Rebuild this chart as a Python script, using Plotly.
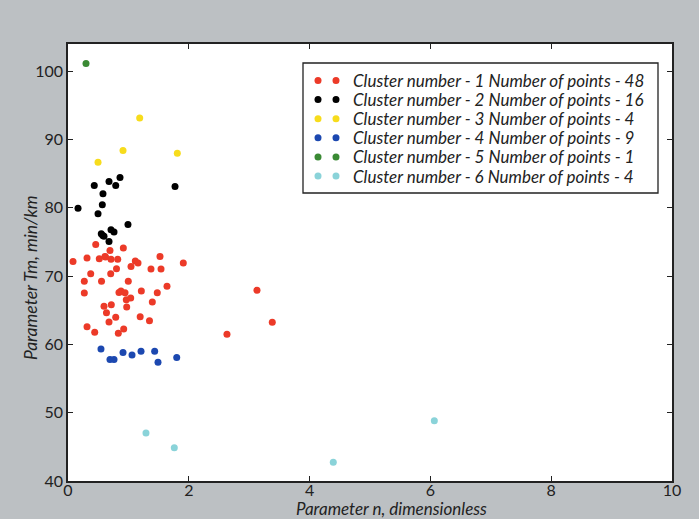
import plotly.graph_objects as go

# ---- data ----
c1_x = [0.459, 0.695, 0.916, 0.083, 0.315, 0.518, 0.613, 0.712, 0.823, 1.114, 1.159, 1.523,
        1.909, 1.043, 0.803, 1.374, 1.540, 0.376, 0.707, 0.270, 0.555, 0.998, 1.639, 0.270,
        0.844, 0.877, 0.944, 1.214, 1.478, 0.965, 1.038, 0.596, 0.717, 0.972, 1.396, 0.637,
        0.790, 1.195, 1.349, 0.679, 0.315, 0.442, 0.833, 0.922, 3.129, 3.382, 2.632, 0.620]
c1_y = [74.65, 73.77, 74.14, 72.16, 72.65, 72.56, 72.89, 72.46, 72.46, 72.21, 71.94, 72.89,
        71.92, 71.43, 71.07, 71.04, 71.04, 70.37, 70.37, 69.24, 69.24, 69.24, 68.51, 67.53,
        67.59, 67.82, 67.56, 67.82, 67.56, 66.56, 66.80, 65.58, 65.83, 65.48, 66.21, 64.63,
        63.98, 64.05, 63.47, 63.29, 62.59, 61.78, 61.64, 62.27, 67.92, 63.25, 61.49, 72.80]

c2_x = [0.435, 0.679, 0.790, 0.861, 0.579, 0.568, 0.166, 0.497, 1.772, 0.993, 0.551, 0.575,
        0.712, 0.762, 0.679, 0.596]
c2_y = [83.27, 83.86, 83.27, 84.44, 82.06, 80.45, 79.96, 79.14, 83.13, 77.57, 76.21, 75.96,
        76.80, 76.45, 75.09, 75.83]

c3_x = [1.187, 0.911, 0.497, 1.810]
c3_y = [93.17, 88.39, 86.68, 88.00]

c4_x = [0.546, 0.695, 0.762, 0.911, 1.060, 1.209, 1.435, 1.490, 1.800]
c4_y = [59.34, 57.79, 57.79, 58.82, 58.46, 59.01, 59.01, 57.40, 58.08]

c5_x = [0.298]
c5_y = [101.16]

c6_x = [1.291, 1.760, 4.392, 6.065]
c6_y = [47.02, 44.87, 42.73, 48.82]

cluster_ids = [1, 2, 3, 4, 5, 6]
colors = ["#ec3a28", "#000000", "#f7dc1c", "#1c48b0", "#3a8a34", "#8ad3d9"]
xs = [c1_x, c2_x, c3_x, c4_x, c5_x, c6_x]
ys = [c1_y, c2_y, c3_y, c4_y, c5_y, c6_y]

x_ticks = [0, 2, 4, 6, 8, 10]
y_ticks = [40, 50, 60, 70, 80, 90, 100]

FONT = "Lato"
TXT = "#222222"

# plot area in pixels (for converting legend layout to paper coords)
W, H = 699, 519
ML, MR, MT, MB = 68, 27, 44, 38
PW, PH = W - ML - MR, H - MT - MB


def px2x(px):
    return (px - ML) / PW


def py2y(py):
    return (H - MB - py) / PH


fig = go.Figure()
for cid, col, x, y in zip(cluster_ids, colors, xs, ys):
    fig.add_trace(go.Scatter(
        x=x, y=y, mode="markers", showlegend=False,
        name=f"Cluster number - {cid} Number of points - {len(x)}",
        marker=dict(color=col, size=7, line=dict(width=0)),
    ))

axis_common = dict(
    showgrid=False, zeroline=False, showline=True, linecolor=TXT, linewidth=1.5,
    mirror="ticks", ticks="inside", ticklen=5, tickwidth=1.2, tickcolor=TXT,
    tickfont=dict(family=FONT, size=16, color=TXT),
)
fig.update_xaxes(range=[0, 10], tickvals=x_ticks, ticklabelstandoff=-6, **axis_common)
fig.update_yaxes(range=[40, 104], tickvals=y_ticks, **axis_common)

# ---- custom legend box (matplotlib style, two dots per entry) ----
shapes = [dict(type="rect", xref="paper", yref="paper",
               x0=px2x(303), x1=px2x(658), y0=py2y(193), y1=py2y(63),
               line=dict(color=TXT, width=1.3), fillcolor="#ffffff", layer="above")]
annotations = []
row0, step = 80.5, 19.1
for i, (cid, col, x) in enumerate(zip(cluster_ids, colors, xs)):
    ry = py2y(row0 + i * step)
    for dx in (318, 336):
        shapes.append(dict(type="circle", xref="paper", yref="paper",
                           xsizemode="pixel", ysizemode="pixel",
                           xanchor=px2x(dx), yanchor=ry,
                           x0=-3.5, x1=3.5, y0=-3.5, y1=3.5,
                           fillcolor=col, line=dict(width=0), layer="above"))
    annotations.append(dict(
        text=f"Cluster number - {cid} Number of points - {len(x)}",
        xref="paper", yref="paper", x=px2x(351), y=ry,
        xanchor="left", yanchor="middle", showarrow=False,
        font=dict(family=FONT, size=17, color=TXT, style="italic")))

annotations += [
    dict(text="Parameter n, dimensionless", xref="paper", yref="paper",
         x=px2x(391), y=py2y(508.5), xanchor="center", yanchor="middle", showarrow=False,
         font=dict(family=FONT, size=17, color=TXT, style="italic")),
    dict(text="Parameter Tm, min/km", xref="paper", yref="paper",
         x=px2x(30), y=py2y(278), xanchor="center", yanchor="middle", showarrow=False,
         textangle=-90,
         font=dict(family=FONT, size=17.5, color=TXT, style="italic")),
]

fig.update_layout(
    width=W, height=H,
    margin=dict(l=ML, r=MR, t=MT, b=MB),
    paper_bgcolor="#bcc0c3",
    plot_bgcolor="#ffffff",
    showlegend=False,
    shapes=shapes,
    annotations=annotations,
)

fig.write_html("out.html",
               config={"displayModeBar": False},
               post_script="document.body.style.margin='0';"
                           "document.body.style.overflow='hidden';")
